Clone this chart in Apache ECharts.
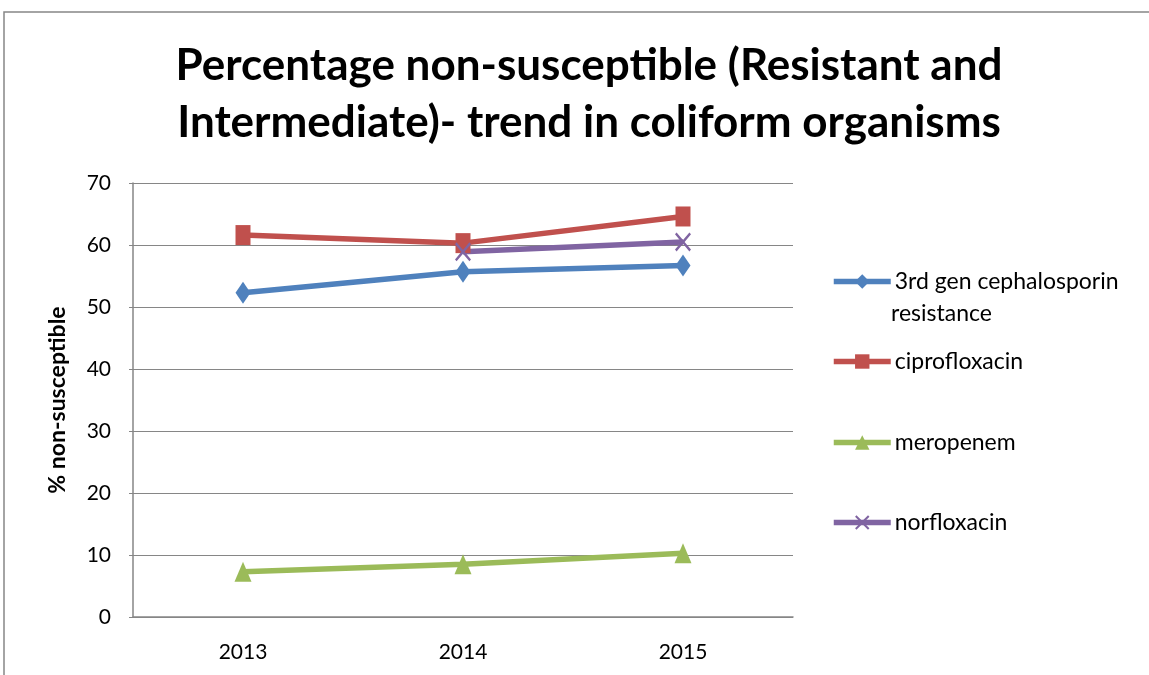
<!DOCTYPE html>
<html>
<head>
<meta charset="utf-8">
<script src="https://cdn.jsdelivr.net/npm/echarts@6/dist/echarts.min.js"></script>
<style>
  html, body { margin: 0; padding: 0; background: #fff; }
  #chart { width: 1149px; height: 675px; }
</style>
</head>
<body>
<div id="chart"></div>
<script>
let years = ['2013', '2014', '2015'];
let cephalosporin = [52.3, 55.7, 56.7];
let ciprofloxacin = [61.6, 60.3, 64.6];
let meropenem = [7.3, 8.5, 10.3];
let norfloxacin = [null, 58.9, 60.5];

let seriesNames = ['3rd gen cephalosporin', 'ciprofloxacin', 'meropenem', 'norfloxacin'];
let colors = ['#4F81BD', '#C0504D', '#9BBB59', '#8064A2'];
let font = 'Lato, "Open Sans", sans-serif';

// X mark drawn as a thin polygon
let crossPath = 'path://M0,1 L1,0 L5,4 L9,0 L10,1 L6,5 L10,9 L9,10 L5,6 L1,10 L0,9 L4,5 Z';

function makeSeries(name, data, color, symbol, size) {
  return {
    name: name,
    type: 'line',
    data: data,
    symbol: symbol,
    symbolSize: size,
    connectNulls: false,
    lineStyle: { color: color, width: 5.5 },
    itemStyle: { color: color },
    emphasis: { disabled: true }
  };
}

let legendTops = [281, 361, 442, 522];
let legends = seriesNames.map((n, i) => ({
  data: [n],
  left: 831,
  top: legendTops[i] - 11,
  padding: 0,
  itemWidth: 57,
  itemHeight: 18,
  itemGap: 3,
  lineStyle: { width: 5.5 },
  textStyle: { fontFamily: font, fontSize: 23, color: '#000', padding: [0, 0, 0, -1] }
}));

let chart = echarts.init(document.getElementById('chart'));
chart.setOption({
  animation: false,
  color: colors,
  title: {
    text: 'Percentage non-susceptible (Resistant and\nIntermediate)- trend in coliform organisms',
    left: 584,
    textAlign: 'center',
    top: 32,
    textStyle: { fontFamily: font, fontWeight: 'bold', fontSize: 44, lineHeight: 57, color: '#000' }
  },
  legend: legends,
  grid: { left: 133, right: 356, top: 183, bottom: 58 },
  xAxis: {
    type: 'category',
    data: years,
    boundaryGap: true,
    axisLine: { lineStyle: { color: '#868686', width: 1.5 } },
    axisTick: { show: false },
    axisLabel: { fontFamily: font, fontSize: 21, color: '#000', margin: 25 }
  },
  yAxis: {
    type: 'value',
    min: 0,
    max: 70,
    interval: 10,
    name: '% non-susceptible',
    nameLocation: 'middle',
    nameGap: 64,
    nameTextStyle: { fontFamily: font, fontWeight: 'bold', fontSize: 23, color: '#000' },
    axisLine: { show: true, lineStyle: { color: '#868686', width: 1.5 } },
    axisTick: { show: true, length: 4, lineStyle: { color: '#868686' } },
    axisLabel: { fontFamily: font, fontSize: 21, color: '#000', margin: 22 },
    splitLine: { lineStyle: { color: '#868686', width: 1.2 } }
  },
  graphic: [
    {
      type: 'rect',
      shape: { x: 4, y: 12, width: 1200, height: 700 },
      style: { fill: null, stroke: '#868686', lineWidth: 1.5 },
      silent: true
    },
    {
      type: 'text',
      left: 891,
      top: 302,
      style: { text: 'resistance', fontFamily: font, fontSize: 23, fill: '#000' }
    }
  ],
  series: [
    makeSeries(seriesNames[0], cephalosporin, colors[0], 'diamond', [15, 22]),
    makeSeries(seriesNames[1], ciprofloxacin, colors[1], 'rect', [15, 20]),
    makeSeries(seriesNames[2], meropenem, colors[2], 'triangle', [17, 20]),
    makeSeries(seriesNames[3], norfloxacin, colors[3], crossPath, [16, 19])
  ]
});
</script>
</body>
</html>
